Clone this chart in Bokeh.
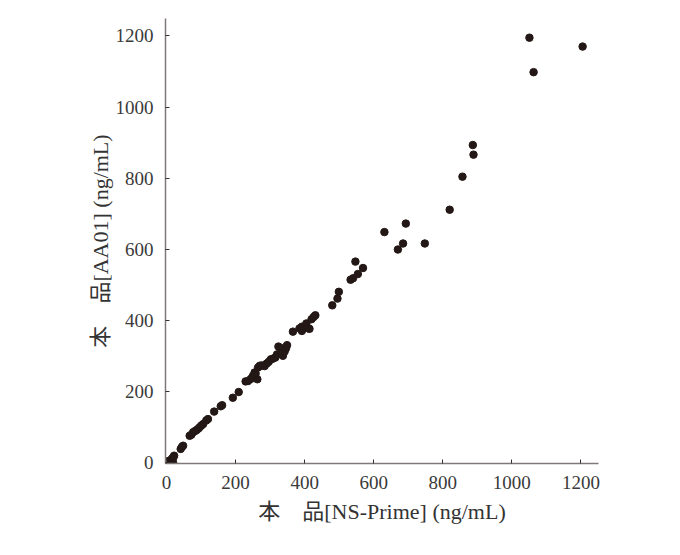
from bokeh.plotting import figure
from bokeh.models import FixedTicker, ColumnDataSource, Range1d
from bokeh.embed import file_html
from bokeh.resources import INLINE

# NS-Prime (x) vs AA01 (y), ng/mL
ns_prime = [0, 3, 5, 10, 14, 19, 17, 22, 20, 41, 45, 48, 67, 72, 77, 82, 87, 92, 96, 101,
            106, 115, 120, 138, 157, 161, 192, 209, 229, 236, 244, 250, 255, 263, 258, 265,
            270, 276, 284, 290, 296, 302, 308, 315, 320, 324, 331, 337, 342, 346, 349, 366,
            385, 392, 392, 405, 411, 414, 420, 426, 431, 480, 495, 499, 533, 540, 554, 547,
            569, 631, 670, 685, 693, 748, 820, 857, 887, 889, 1051, 1063, 1205]
aa01 = [0, 3, 1, 5, 8, 0, 12, 19, 15, 38, 44, 47, 75, 78, 85, 88, 91, 95, 99, 104,
        108, 118, 122, 143, 158, 161, 182, 198, 228, 229, 235, 243, 253, 234, 250, 267,
        272, 273, 271, 278, 283, 290, 292, 295, 304, 326, 322, 300, 312, 321, 330, 368,
        377, 382, 370, 391, 377, 376, 403, 409, 414, 442, 461, 480, 514, 518, 530, 565,
        547, 648, 599, 616, 672, 616, 711, 804, 893, 866, 1195, 1098, 1170]
ticks = [0, 200, 400, 600, 800, 1000, 1200]

src = ColumnDataSource(dict(x=ns_prime, y=aa01))

SERIF = "Liberation Serif, Noto Sans CJK JP"

p = figure(width=670, height=545, output_backend="svg", toolbar_location=None,
           x_range=Range1d(-3, 1251), y_range=Range1d(-3, 1249),
           min_border_left=165, min_border_right=72, min_border_top=18, min_border_bottom=82)
p.outline_line_color = None
p.grid.visible = False
p.background_fill_color = "white"

p.scatter("x", "y", source=src, size=7.5, fill_color="#231815", line_color="#231815")

for ax in (p.xaxis[0], p.yaxis[0]):
    ax.ticker = FixedTicker(ticks=ticks)
    ax.minor_tick_line_color = None
    ax.major_tick_in = 4
    ax.major_tick_out = 0
    ax.major_tick_line_color = "#333333"
    ax.axis_line_color = "#7f7878"
    ax.axis_line_width = 1.5
    ax.major_label_text_font = SERIF
    ax.major_label_text_font_size = "19px"
    ax.major_label_text_color = "#3a3a3a"
    ax.axis_label_text_font = SERIF
    ax.axis_label_text_font_size = "22px"
    ax.axis_label_text_font_style = "normal"
    ax.axis_label_text_color = "#333333"

p.xaxis.axis_label = "本　品[NS-Prime] (ng/mL)"
p.yaxis.axis_label = "本　品[AA01] (ng/mL)"
p.xaxis.major_label_standoff = 12
p.xaxis.axis_label_standoff = 7
p.yaxis.major_label_standoff = 12
p.yaxis.axis_label_standoff = 0

open("out.html", "w").write(file_html(p, INLINE))
